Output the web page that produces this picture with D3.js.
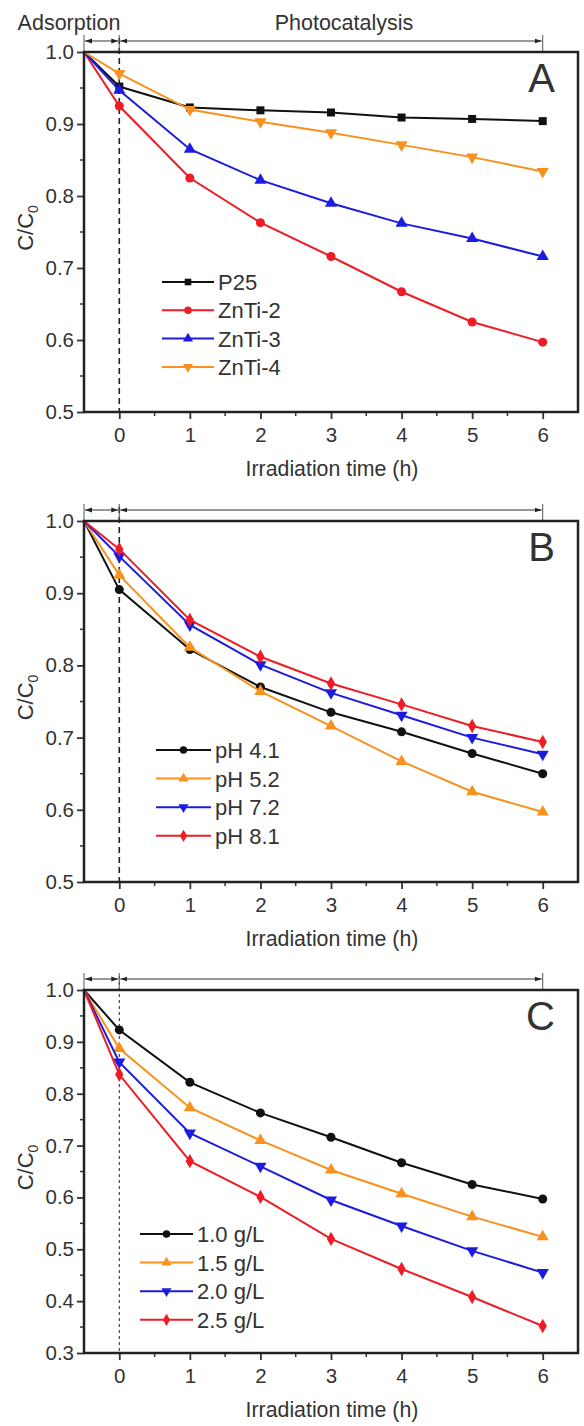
<!DOCTYPE html>
<html>
<head>
<meta charset="utf-8">
<script src="https://cdn.jsdelivr.net/npm/d3@7"></script>
<style>
    body { margin: 0; background: #fff; }
    svg { display: block; font-family: "Liberation Sans", Arial, sans-serif; }
    text { fill: #333; }
</style>
</head>
<body>
<svg id="chart" width="584" height="1426"></svg>
<script>

// irradiation time (h), -0.5 is the start of the dark adsorption step
const hours = [-0.5, 0, 1, 2, 3, 4, 5, 6]

// panel A: catalysts
const p25   = [1.0, 0.952, 0.923, 0.919, 0.916, 0.909, 0.907, 0.904]
const znti2 = [1.0, 0.925, 0.825, 0.763, 0.716, 0.667, 0.625, 0.597]
const znti3 = [1.0, 0.947, 0.865, 0.822, 0.790, 0.762, 0.741, 0.716]
const znti4 = [1.0, 0.970, 0.920, 0.903, 0.888, 0.871, 0.854, 0.834]

// panel B: initial pH
const ph41 = [1.0, 0.905, 0.822, 0.770, 0.735, 0.708, 0.678, 0.650]
const ph52 = [1.0, 0.925, 0.825, 0.764, 0.716, 0.667, 0.625, 0.597]
const ph72 = [1.0, 0.951, 0.856, 0.801, 0.762, 0.731, 0.700, 0.677]
const ph81 = [1.0, 0.961, 0.863, 0.812, 0.775, 0.746, 0.716, 0.694]

// panel C: catalyst dosage
const g10 = [1.0, 0.923, 0.822, 0.763, 0.716, 0.667, 0.625, 0.597]
const g15 = [1.0, 0.887, 0.773, 0.710, 0.653, 0.607, 0.563, 0.524]
const g20 = [1.0, 0.861, 0.724, 0.660, 0.595, 0.545, 0.497, 0.455]
const g25 = [1.0, 0.837, 0.670, 0.601, 0.520, 0.462, 0.408, 0.352]

const xTicks = [0, 1, 2, 3, 4, 5, 6]
const yTicksAB = [0.5, 0.6, 0.7, 0.8, 0.9, 1.0]
const yTicksC = [0.3, 0.4, 0.5, 0.6, 0.7, 0.8, 0.9, 1.0]

const black = "#111111", red = "#ee1c24", blue = "#1c1ce0", orange = "#f7921e"

const panels = [
    {
        letter: "A", top: 52, bottom: 412, ymin: 0.5, yticks: yTicksAB, dash: "6,4", dashWidth: 1.6,
        legend: { x1: 162, x2: 214, y: 282, step: 28.3 },
        series: [
            { name: "P25", values: p25, color: black, symbol: "square" },
            { name: "ZnTi-2", values: znti2, color: red, symbol: "circle" },
            { name: "ZnTi-3", values: znti3, color: blue, symbol: "up" },
            { name: "ZnTi-4", values: znti4, color: orange, symbol: "down" }
        ]
    },
    {
        letter: "B", top: 521, bottom: 882, ymin: 0.5, yticks: yTicksAB, dash: "6,4", dashWidth: 1.6,
        legend: { x1: 156, x2: 211, y: 750, step: 28.6 },
        series: [
            { name: "pH 4.1", values: ph41, color: black, symbol: "circle" },
            { name: "pH 5.2", values: ph52, color: orange, symbol: "up" },
            { name: "pH 7.2", values: ph72, color: blue, symbol: "down" },
            { name: "pH 8.1", values: ph81, color: red, symbol: "diamond" }
        ]
    },
    {
        letter: "C", top: 990, bottom: 1353, ymin: 0.3, yticks: yTicksC, dash: "3,3", dashWidth: 1,
        legend: { x1: 140, x2: 193, y: 1234, step: 28.6 },
        series: [
            { name: "1.0 g/L", values: g10, color: black, symbol: "circle" },
            { name: "1.5 g/L", values: g15, color: orange, symbol: "up" },
            { name: "2.0 g/L", values: g20, color: blue, symbol: "down" },
            { name: "2.5 g/L", values: g25, color: red, symbol: "diamond" }
        ]
    }
]

const svg = d3.select("#chart")

svg.append("defs").append("marker")
    .attr("id", "head")
    .attr("viewBox", "0 0 10 10")
    .attr("refX", 10).attr("refY", 5)
    .attr("markerWidth", 7).attr("markerHeight", 7)
    .attr("markerUnits", "userSpaceOnUse")
    .attr("orient", "auto-start-reverse")
    .append("path").attr("d", "M0,1.5L10,5L0,8.5Z").attr("fill", "#222")

const x = d3.scaleLinear().domain([-0.5, 6.5]).range([84, 578])

function symbolPath(kind, size) {
    let type = { square: d3.symbolSquare, circle: d3.symbolCircle, up: d3.symbolTriangle, down: d3.symbolTriangle, diamond: d3.symbolDiamond }[kind]
    return d3.symbol().type(type).size(size)()
}

function drawPanel(p) {
    let y = d3.scaleLinear().domain([p.ymin, 1.0]).range([p.bottom, p.top])
    let g = svg.append("g")

    // minor ticks
    let yMinor = d3.range(p.ymin + 0.05, 1.0, 0.1)
    g.selectAll(".ymin").data(yMinor).join("line")
        .attr("x1", x(-0.5) - 4).attr("x2", x(-0.5))
        .attr("y1", d => y(d)).attr("y2", d => y(d))
        .attr("stroke", "#333").attr("stroke-width", 1.5)
    g.selectAll(".xmin").data(d3.range(0.5, 6.5, 1)).join("line")
        .attr("x1", d => x(d)).attr("x2", d => x(d))
        .attr("y1", p.bottom).attr("y2", p.bottom + 4)
        .attr("stroke", "#333").attr("stroke-width", 1.5)

    let yAxis = g.append("g").attr("transform", `translate(${x(-0.5)},0)`)
        .call(d3.axisLeft(y).tickValues(p.yticks).tickFormat(d3.format(".1f")).tickSize(7).tickPadding(3))
    let xAxis = g.append("g").attr("transform", `translate(0,${p.bottom})`)
        .call(d3.axisBottom(x).tickValues(xTicks).tickFormat(d3.format("d")).tickSize(7).tickPadding(8))
    for (let ax of [xAxis, yAxis]) {
        ax.select(".domain").remove()
        ax.selectAll(".tick line").attr("stroke", "#333").attr("stroke-width", 1.8)
        ax.selectAll(".tick text").attr("font-size", 20.5).attr("fill", "#333").style("font-family", "'Liberation Sans', Arial, sans-serif")
    }

    // dashed line at t = 0
    g.append("line")
        .attr("x1", x(0)).attr("x2", x(0))
        .attr("y1", p.top - 14).attr("y2", p.bottom)
        .attr("stroke", "#222").attr("stroke-width", p.dashWidth).attr("stroke-dasharray", p.dash)

    // adsorption / photocatalysis arrows
    let ay = p.top - 11
    for (let [a, b] of [[-0.5, 0], [0, 6]]) {
        g.append("line")
            .attr("x1", x(a) + 1).attr("x2", x(b) - 1)
            .attr("y1", ay).attr("y2", ay)
            .attr("stroke", "#333").attr("stroke-width", 1.2)
            .attr("marker-start", "url(#head)").attr("marker-end", "url(#head)")
    }
    for (let t of [-0.5, 0, 6]) {
        g.append("line")
            .attr("x1", x(t)).attr("x2", x(t))
            .attr("y1", ay - 6).attr("y2", p.top)
            .attr("stroke", "#555").attr("stroke-width", 1)
    }

    // series
    let line = d3.line().x((d, i) => x(hours[i])).y(d => y(d))
    for (let s of p.series) {
        let sg = g.append("g")
        sg.append("path").datum(s.values)
            .attr("d", line).attr("fill", "none")
            .attr("stroke", s.color).attr("stroke-width", 2)
        sg.selectAll("path.mk").data(s.values.slice(1)).join("path")
            .attr("class", "mk")
            .attr("d", symbolPath(s.symbol, s.symbol == "diamond" ? 60 : 64))
            .attr("transform", (d, i) => `translate(${x(hours[i + 1])},${y(d)})` + (s.symbol == "down" ? " rotate(180)" : ""))
            .attr("fill", s.color)
    }

    // frame
    g.append("rect")
        .attr("x", x(-0.5)).attr("y", p.top)
        .attr("width", x(6.5) - x(-0.5)).attr("height", p.bottom - p.top)
        .attr("fill", "none").attr("stroke", "#222").attr("stroke-width", 2.5)

    // legend
    let L = p.legend
    p.series.forEach((s, i) => {
        let ly = L.y + i * L.step
        g.append("line").attr("x1", L.x1).attr("x2", L.x2).attr("y1", ly).attr("y2", ly)
            .attr("stroke", s.color).attr("stroke-width", 2)
        g.append("path")
            .attr("d", symbolPath(s.symbol, 44))
            .attr("transform", `translate(${(L.x1 + L.x2) / 2},${ly})` + (s.symbol == "down" ? " rotate(180)" : ""))
            .attr("fill", s.color)
        g.append("text").attr("x", L.x2 + 4).attr("y", ly + 8)
            .attr("font-size", 22).text(s.name)
    })

    // panel letter
    g.append("text").attr("x", 555).attr("y", p.top + 40)
        .attr("text-anchor", "end").attr("font-size", 40).attr("fill", "#111").text(p.letter)

    // axis titles
    g.append("text").attr("x", 332).attr("y", p.bottom + 64)
        .attr("text-anchor", "middle").attr("font-size", 21.3).text("Irradiation time (h)")
    let yt = g.append("text")
        .attr("transform", `translate(33,${(p.top + p.bottom) / 2 - 4}) rotate(-90)`)
        .attr("text-anchor", "middle").attr("font-size", 22)
    yt.append("tspan").text("C/C")
    yt.append("tspan").attr("font-size", 14).attr("dy", 5).text("0")
}

panels.forEach(drawPanel)

svg.append("text").attr("x", 69).attr("y", 30).attr("text-anchor", "middle")
    .attr("font-size", 21.5).text("Adsorption")
svg.append("text").attr("x", 344).attr("y", 30).attr("text-anchor", "middle")
    .attr("font-size", 21.5).text("Photocatalysis")

</script>
</body>
</html>
